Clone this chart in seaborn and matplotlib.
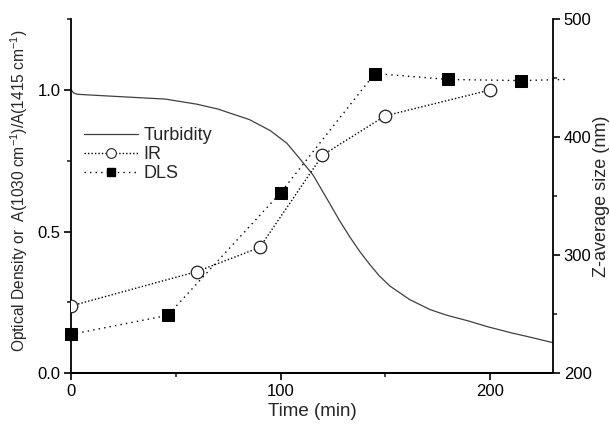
import matplotlib
matplotlib.use("Agg")
import matplotlib.pyplot as plt
import seaborn as sns
import pandas as pd
import numpy as np
from matplotlib.lines import Line2D
from matplotlib.ticker import MultipleLocator

sns.set_style("ticks")
plt.rcParams['font.family'] = ['Liberation Sans', 'DejaVu Sans']
plt.rcParams['mathtext.fontset'] = 'custom'
plt.rcParams['mathtext.rm'] = 'Liberation Sans'
plt.rcParams['mathtext.it'] = 'Liberation Sans'

# Turbidity (left axis)
turb_time = [0, 1, 3, 20, 45, 60, 70, 76, 85, 95, 103, 109, 115.5, 123.4, 128, 133,
             138, 142.6, 147, 152.2, 161.7, 171.3, 179.3, 190, 199, 210, 220, 230]
turb_od = [1.0, 0.99, 0.985, 0.978, 0.968, 0.950, 0.933, 0.918, 0.896, 0.857, 0.812,
           0.759, 0.700, 0.600, 0.541, 0.482, 0.428, 0.384, 0.345, 0.308, 0.260,
           0.225, 0.205, 0.184, 0.164, 0.143, 0.126, 0.108]

# IR ratio (left axis)
ir_time = [0, 60, 90, 120, 150, 200]
ir_ratio = [0.238, 0.359, 0.444, 0.770, 0.909, 1.0]

# DLS z-average (right axis)
dls_time = [0, 46, 100, 145, 180, 215, 236]
dls_size = [233, 249, 353, 454, 449, 448, 449]
dls_marked = 6

fig, ax = plt.subplots(figsize=(6.1, 4.28), dpi=100)
fig.subplots_adjust(left=0.117, right=0.906, bottom=0.128, top=0.955)
ax2 = ax.twinx()

sns.lineplot(x=turb_time, y=turb_od, ax=ax, color='#404040', lw=0.9, legend=False)
sns.lineplot(x=ir_time, y=ir_ratio, ax=ax, color='black', lw=1.0, ls=(0, (1, 1.5)),
             marker='o', markersize=9, markerfacecolor='white', markeredgecolor='#222222',
             markeredgewidth=0.9, legend=False, zorder=3)
sns.lineplot(x=dls_time, y=dls_size, ax=ax2, color='black', lw=1.0, ls=(0, (1, 3)),
             marker='s', markersize=8, markerfacecolor='black', markeredgecolor='black',
             markevery=list(range(dls_marked)), legend=False, clip_on=False, sort=False)

ax.set_xlim(0, 230)
ax.set_ylim(0, 1.25)
ax2.set_ylim(200, 500)

ax.xaxis.set_major_locator(MultipleLocator(100))
ax.xaxis.set_minor_locator(MultipleLocator(50))
ax.yaxis.set_major_locator(MultipleLocator(0.5))
ax.yaxis.set_minor_locator(MultipleLocator(0.25))
ax2.yaxis.set_major_locator(MultipleLocator(100))
ax2.yaxis.set_minor_locator(MultipleLocator(50))
ax.set_xticks([0, 100, 200])
ax.set_yticks([0.0, 0.5, 1.0])
ax.set_yticklabels(['0.0', '0.5', '1.0'])

for a in (ax, ax2):
    a.tick_params(which='major', direction='out', length=5, width=1.2, labelsize=12,
                  colors='black', pad=3)
    a.tick_params(which='minor', direction='out', length=3, width=1.2)
    for s in a.spines.values():
        s.set_linewidth(1.3)
        s.set_color('black')
    a.spines['top'].set_visible(False)
    a.grid(False)
ax.spines['right'].set_visible(False)
ax2.spines['left'].set_visible(False)

ax.set_xlabel('Time (min)', fontsize=13.5, labelpad=3)
ax.set_ylabel(r'Optical Density or  A(1030 cm$^{-1}$)/A(1415 cm$^{-1}$)', fontsize=11.2, labelpad=3)
ax.yaxis.set_label_coords(-0.085, 0.515)
ax2.set_ylabel('Z-average size (nm)', fontsize=13, labelpad=1)

handles = [
    Line2D([], [], color='#404040', lw=0.9),
    Line2D([], [], color='black', lw=1.0, ls=(0, (1, 1.5)), marker='o', markersize=7,
           markerfacecolor='white', markeredgecolor='#222222', markeredgewidth=0.8),
    Line2D([], [], color='black', lw=1.0, ls=(0, (1, 3)), marker='s', markersize=6,
           markerfacecolor='black', markeredgecolor='black'),
]
ax.legend(handles, ['Turbidity', 'IR', 'DLS'], loc='upper left',
          bbox_to_anchor=(0.0, 0.73), frameon=False, fontsize=13,
          handlelength=3.0, handletextpad=0.3, labelspacing=0.1, borderaxespad=0.3)

fig.savefig('out.png', dpi=100)
